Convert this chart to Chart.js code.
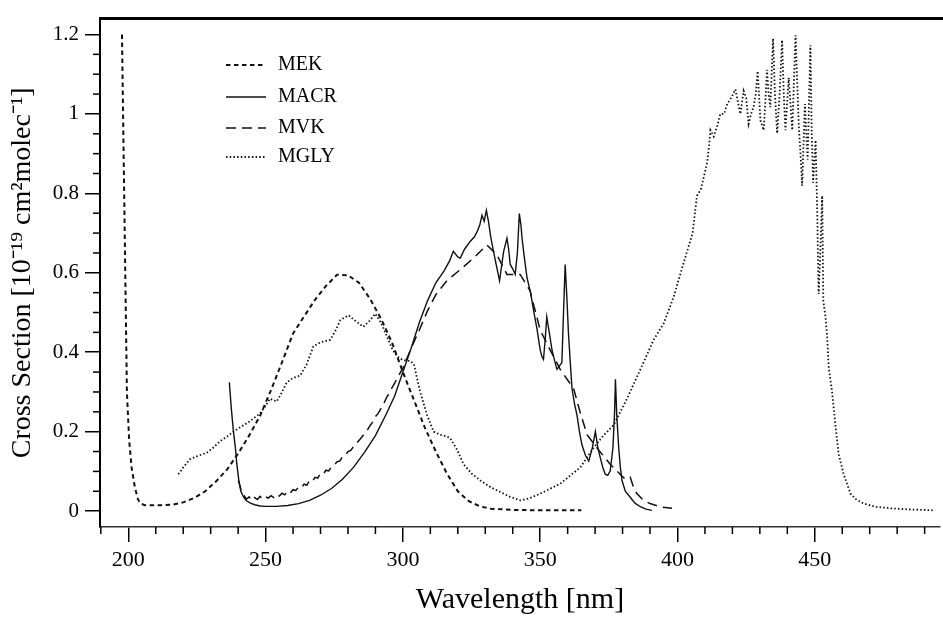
<!DOCTYPE html>
<html>
<head>
<meta charset="utf-8">
<script src="https://cdn.jsdelivr.net/npm/chart.js@4.4.0/dist/chart.umd.min.js"></script>
<style>
html,body{margin:0;padding:0;background:#fff;}
canvas{display:block;}
</style>
</head>
<body>
<canvas id="c" width="943" height="618"></canvas>
<script>
// ---- data ----
const seriesNames = ["MEK", "MACR", "MVK", "MGLY"];

const mekX = [197.7,198.3,198.9,199.5,200.3,201.2,202.4,203.5,204.5,206,208,212,216,220,224,228,232,236,240,244,248,252,256,260,264,268,272,276,280,284,288,292,296,300,304,308,312,316,320,324,328,332,340,350,358,365];
const mekY = [1.2,0.9,0.6,0.3,0.18,0.11,0.06,0.03,0.019,0.015,0.015,0.015,0.016,0.022,0.033,0.05,0.075,0.105,0.145,0.19,0.24,0.305,0.375,0.447,0.49,0.532,0.567,0.595,0.594,0.575,0.535,0.485,0.425,0.35,0.28,0.21,0.15,0.095,0.05,0.025,0.012,0.006,0.003,0.002,0.002,0.002];

const macrX = [236.8,237.5,238.3,239,239.5,240.2,241,242,243,244.5,246,248,250,254,258,262,266,270,274,278,282,286,290,294,297,300,303,306,309,312,315,317,318.4,320,320.9,322.5,324.5,326,327,328,328.8,329.6,330.4,331.2,332,333,334,335.2,336,336.7,337.9,338.5,339.1,340,340.9,341.7,342.4,343,343.4,344.2,345.2,346.5,347.6,348.8,350,350.6,351.2,351.8,352.4,353.3,354.3,355.2,356.1,357,357.9,358.5,359.1,359.7,360.3,361,361.6,362.5,363.4,364.3,365.2,366.5,367.7,369,370.1,371,371.9,372.8,373.7,374.6,375.5,376.5,377.1,377.4,377.9,378.6,379.2,379.8,381,382.8,384.5,386.5,388.5,390.7];
const macrY = [0.324,0.26,0.2,0.16,0.12,0.08,0.05,0.035,0.026,0.02,0.016,0.013,0.012,0.012,0.014,0.019,0.027,0.04,0.057,0.08,0.11,0.148,0.19,0.245,0.29,0.35,0.41,0.475,0.53,0.575,0.605,0.63,0.654,0.64,0.637,0.66,0.679,0.69,0.703,0.72,0.745,0.73,0.757,0.728,0.69,0.654,0.62,0.58,0.62,0.654,0.687,0.66,0.621,0.61,0.596,0.65,0.749,0.72,0.687,0.64,0.588,0.55,0.505,0.46,0.406,0.39,0.382,0.43,0.489,0.45,0.406,0.38,0.357,0.365,0.374,0.5,0.621,0.54,0.448,0.37,0.308,0.27,0.242,0.2,0.167,0.14,0.126,0.16,0.2,0.16,0.134,0.11,0.093,0.09,0.101,0.16,0.25,0.332,0.24,0.159,0.11,0.077,0.05,0.035,0.02,0.011,0.005,0.002];

const mvkX = [240.1,241,242,243,244,245,246,247,248,249,250,251,252,253,254,255,256,257,258,259,260,261,262,263,264,265,266,267,268,269,270,271,272,273,274,275,276,277,278,279,280,281,282,283,284,285,286,287,288,289,290,291,292,293,294,295,296,297,298,299,300,303,306,309,312,316,320.9,325.7,330.6,334.2,337.9,342.7,346.3,350,353.6,357.3,362.2,364.5,367.1,370.7,375.5,379.1,381,382.8,384,385.2,387.5,390,394,398];
const mvkY = [0.077,0.055,0.042,0.030,0.036,0.027,0.034,0.029,0.037,0.030,0.036,0.033,0.039,0.034,0.042,0.038,0.045,0.041,0.050,0.046,0.054,0.052,0.060,0.058,0.068,0.065,0.077,0.074,0.085,0.083,0.095,0.093,0.103,0.101,0.112,0.116,0.124,0.126,0.137,0.139,0.150,0.153,0.162,0.170,0.178,0.186,0.195,0.203,0.215,0.224,0.238,0.246,0.258,0.270,0.285,0.297,0.310,0.322,0.336,0.348,0.360,0.41,0.456,0.505,0.545,0.58,0.608,0.637,0.67,0.646,0.596,0.596,0.555,0.456,0.406,0.357,0.308,0.25,0.192,0.159,0.118,0.093,0.08,0.085,0.06,0.044,0.028,0.019,0.01,0.007];

const mglyX = [218.2,220,222.5,225,228.6,231,233.4,236,238.3,241,244,248,250,251.6,254.1,256,257.7,260,262.6,265,267.4,270,273.5,275.5,277.2,280.2,282.5,285.6,288,289.9,292,294.2,296,297.8,300,302.7,304,306.3,308.8,311.2,313.6,316,317.2,319.7,322.1,325,328.2,332,335.5,339,342.8,346,350,357.3,364.6,369.5,373,376.8,381.6,386.5,391.3,395,398.6,401,403.5,405.5,407.1,408.5,410.8,411.5,412,413.2,414.5,415.6,417,418.1,419.5,421.1,422,422.9,424.1,425,425.9,426.8,427.7,428.5,429.2,430.2,431.4,432,432.6,433.2,433.8,434.3,434.8,435.5,436.3,437.2,438.1,438.7,439.3,440.5,441.2,441.8,442.4,443,443.6,444.2,444.8,445.4,446.4,446.9,447.4,448.4,448.9,449.4,450.3,450.9,451.4,452,452.7,453.1,453.9,454.5,455.1,455.7,456.3,457.5,458.7,460.5,463,465,467.8,472,477.6,485,493.4];
const mglyY = [0.093,0.11,0.131,0.138,0.147,0.16,0.176,0.188,0.2,0.212,0.225,0.246,0.265,0.283,0.276,0.3,0.324,0.335,0.341,0.37,0.415,0.425,0.431,0.455,0.481,0.493,0.48,0.464,0.48,0.497,0.475,0.44,0.41,0.39,0.38,0.378,0.37,0.3,0.242,0.2,0.192,0.188,0.184,0.155,0.118,0.095,0.077,0.06,0.048,0.036,0.027,0.032,0.044,0.069,0.11,0.16,0.19,0.217,0.283,0.357,0.431,0.473,0.539,0.596,0.654,0.7,0.794,0.81,0.877,0.92,0.959,0.943,0.97,1.0,1.0,1.025,1.04,1.062,1.03,1.0,1.058,1.04,0.975,1.0,1.017,1.05,1.108,0.984,0.959,1.03,1.111,1.05,1.017,1.1,1.19,1.05,0.951,1.05,1.186,1.05,0.959,1.091,1.02,0.959,1.08,1.198,1.08,0.967,0.9,0.819,1.025,0.95,0.885,1.173,0.95,0.827,0.934,0.75,0.547,0.65,0.794,0.53,0.489,0.44,0.36,0.33,0.3,0.217,0.143,0.093,0.044,0.03,0.019,0.011,0.007,0.004,0.002];

const xMajorTicks = [200,250,300,350,400,450];
const xMinorTicks = [190,210,220,230,240,260,270,280,290,310,320,330,340,360,370,380,390,410,420,430,440,460,470,480,490];
const yMajorTicks = [0,0.2,0.4,0.6,0.8,1.0,1.2];
const yMinorTicks = [0.05,0.1,0.15,0.25,0.3,0.35,0.45,0.5,0.55,0.65,0.7,0.75,0.85,0.9,0.95,1.05,1.1,1.15];

const toPts = (xs, ys) => xs.map((x, i) => ({x: x, y: ys[i]}));

const FONT = "'Liberation Serif', 'Times New Roman', serif";

const dashes = {
  MEK: [4.5, 3.5],
  MACR: [],
  MVK: [10, 6],
  MGLY: [1.5, 2.2]
};
const widths = {MEK: 2, MACR: 1.4, MVK: 1.5, MGLY: 1.8};

const allX = [mekX, macrX, mvkX, mglyX];
const allY = [mekY, macrY, mvkY, mglyY];

const datasets = seriesNames.map((n, i) => ({
  label: n,
  data: toPts(allX[i], allY[i]),
  showLine: true,
  borderColor: '#111',
  backgroundColor: '#111',
  borderWidth: widths[n],
  borderDash: dashes[n],
  pointRadius: 0,
  tension: 0,
  fill: false
}));

const decorPlugin = {
  id: 'decor',
  afterDraw(chart) {
    const {ctx, chartArea: a, scales: {x, y}} = chart;
    ctx.save();
    ctx.strokeStyle = '#000';
    ctx.setLineDash([]);
    // minor ticks
    ctx.lineWidth = 1.5;
    xMinorTicks.forEach(v => {
      const px = x.getPixelForValue(v);
      ctx.beginPath(); ctx.moveTo(px, a.bottom); ctx.lineTo(px, a.bottom + 7); ctx.stroke();
    });
    yMinorTicks.forEach(v => {
      const py = y.getPixelForValue(v);
      ctx.beginPath(); ctx.moveTo(a.left, py); ctx.lineTo(a.left - 7, py); ctx.stroke();
    });
    // thick top frame
    ctx.lineWidth = 3;
    ctx.beginPath(); ctx.moveTo(a.left - 1, a.top); ctx.lineTo(chart.width, a.top); ctx.stroke();
    // legend
    const rows = [65, 97, 128, 157];
    ctx.font = "20px " + FONT;
    ctx.fillStyle = '#000';
    ctx.textBaseline = 'middle';
    ctx.textAlign = 'left';
    chart.data.datasets.forEach((ds, i) => {
      const yy = rows[i];
      ctx.strokeStyle = '#111';
      ctx.lineWidth = ds.borderWidth;
      ctx.setLineDash(ds.borderDash);
      ctx.beginPath(); ctx.moveTo(226, yy); ctx.lineTo(266, yy); ctx.stroke();
      ctx.setLineDash([]);
      ctx.fillText(ds.label, 278, yy);
    });
    ctx.restore();
  }
};

new Chart(document.getElementById('c'), {
  type: 'scatter',
  data: {datasets: datasets},
  plugins: [decorPlugin],
  options: {
    responsive: false,
    animation: false,
    devicePixelRatio: 1,
    layout: {padding: {top: 10, right: 3, left: 0, bottom: 0}},
    plugins: {legend: {display: false}, tooltip: {enabled: false}},
    scales: {
      x: {
        type: 'linear',
        min: 189.7,
        max: 495.6,
        afterBuildTicks: s => { s.ticks = xMajorTicks.map(v => ({value: v})); },
        afterFit: s => { s.height = 91; },
        grid: {drawOnChartArea: false, drawTicks: true, tickLength: 15, color: '#000', lineWidth: 1.5},
        border: {display: true, color: '#333', width: 1.5},
        ticks: {color: '#000', padding: 5, font: {family: FONT, size: 22}, maxRotation: 0, autoSkip: false,
                callback: v => String(v)},
        title: {display: true, text: 'Wavelength [nm]', color: '#000',
                font: {family: FONT, size: 30, lineHeight: 1}, padding: {top: 0, bottom: 3}}
      },
      y: {
        type: 'linear',
        min: -0.04,
        max: 1.24,
        afterBuildTicks: s => { s.ticks = yMajorTicks.map(v => ({value: v})); },
        afterFit: s => { s.width = 100; },
        grid: {drawOnChartArea: false, drawTicks: true, tickLength: 15, color: '#000', lineWidth: 1.5},
        border: {display: true, color: '#000', width: 2},
        ticks: {color: '#000', padding: 6, font: {family: FONT, size: 21}, autoSkip: false,
                callback: v => String(Math.round(v * 10) / 10)},
        title: {display: true, text: 'Cross Section [10\u207B\u00B9\u2079 cm\u00B2molec\u207B\u00B9]', color: '#000',
                font: {family: FONT, size: 28, lineHeight: 1}, padding: {top: 9, bottom: 0}}
      }
    }
  }
});
</script>
</body>
</html>
